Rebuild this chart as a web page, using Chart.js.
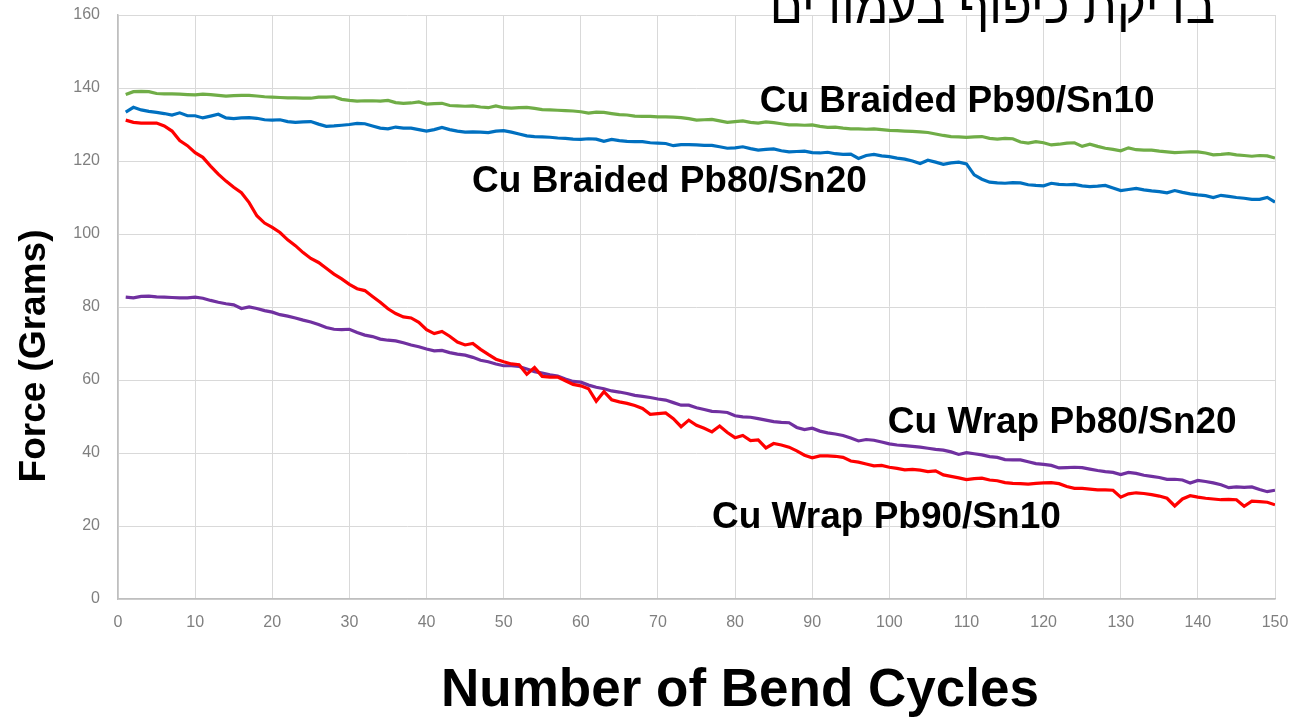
<!DOCTYPE html>
<html>
<head>
<meta charset="utf-8">
<script src="https://cdn.jsdelivr.net/npm/chart.js@4/dist/chart.umd.min.js"></script>
<style>
  html, body { margin: 0; padding: 0; background: #ffffff; }
  #c { display: block; }
</style>
</head>
<body>
<canvas id="c" width="1295" height="717"></canvas>
<script>
// ---------------- data ----------------
const cycles = [1,2,3,4,5,6,7,8,9,10,11,12,13,14,15,16,17,18,19,20,21,22,23,24,25,26,27,28,29,30,
31,32,33,34,35,36,37,38,39,40,41,42,43,44,45,46,47,48,49,50,51,52,53,54,55,56,57,58,59,60,
61,62,63,64,65,66,67,68,69,70,71,72,73,74,75,76,77,78,79,80,81,82,83,84,85,86,87,88,89,90,
91,92,93,94,95,96,97,98,99,100,101,102,103,104,105,106,107,108,109,110,111,112,113,114,115,116,117,118,119,120,
121,122,123,124,125,126,127,128,129,130,131,132,133,134,135,136,137,138,139,140,141,142,143,144,145,146,147,148,149,150];

const seriesNames = ['Cu Braided Pb90/Sn10', 'Cu Braided Pb80/Sn20', 'Cu Wrap Pb90/Sn10', 'Cu Wrap Pb80/Sn20'];

const braidedPb90Sn10 = [138.2,139.0,139.1,139.0,138.5,138.4,138.4,138.3,138.2,138.1,138.3,138.2,138.0,137.8,137.9,138.0,138.0,137.8,137.6,137.5,
137.4,137.3,137.3,137.2,137.2,137.5,137.5,137.6,136.9,136.6,136.4,136.5,136.5,136.4,136.6,136.0,135.8,135.9,136.2,135.6,
135.7,135.8,135.2,135.1,135.0,135.1,134.8,134.6,135.1,134.6,134.5,134.6,134.7,134.4,134.1,134.0,133.9,133.8,133.7,133.5,
133.1,133.4,133.3,133.0,132.7,132.6,132.3,132.2,132.2,132.1,132.1,132.0,131.9,131.6,131.2,131.3,131.4,131.0,130.6,130.8,
131.0,130.6,130.4,130.7,130.5,130.2,129.9,129.9,129.8,129.9,129.5,129.2,129.3,129.0,128.8,128.8,128.7,128.8,128.6,128.4,
128.3,128.2,128.1,128.0,127.8,127.4,127.0,126.7,126.6,126.5,126.6,126.7,126.2,126.0,126.2,126.1,125.2,124.9,125.3,125.0,
124.4,124.6,124.9,125.0,124.0,124.6,124.0,123.5,123.2,122.8,123.6,123.1,123.0,123.0,122.7,122.5,122.3,122.4,122.5,122.5,
122.2,121.7,121.8,122.0,121.7,121.5,121.3,121.5,121.4,120.8];

const braidedPb80Sn20 = [133.4,134.7,134.0,133.6,133.3,133.0,132.6,133.2,132.4,132.4,131.8,132.3,132.8,131.8,131.6,131.8,131.9,131.7,131.3,131.2,
131.3,130.8,130.6,130.7,130.8,130.1,129.5,129.6,129.8,130.0,130.3,130.2,129.6,129.0,128.8,129.3,129.0,129.0,128.6,128.2,
128.6,129.2,128.6,128.2,127.9,128.0,127.9,127.8,128.2,128.3,127.9,127.4,126.9,126.7,126.6,126.5,126.3,126.2,126.0,125.9,
126.1,126.0,125.4,125.9,125.6,125.4,125.3,125.3,125.0,124.9,124.8,124.2,124.5,124.5,124.4,124.3,124.3,123.9,123.5,123.6,
123.9,123.4,123.0,123.2,123.3,122.8,122.5,122.6,122.7,122.3,122.2,122.4,122.0,121.8,121.9,120.7,121.5,121.8,121.4,121.2,
120.8,120.5,120.0,119.3,120.2,119.7,119.1,119.5,119.7,119.2,116.2,115.0,114.2,114.0,113.9,114.1,114.0,113.5,113.3,113.2,
113.9,113.6,113.5,113.6,113.2,113.0,113.1,113.3,112.6,111.9,112.2,112.5,112.1,111.8,111.6,111.3,111.9,111.4,111.0,110.7,
110.5,110.0,110.6,110.3,110.0,109.8,109.5,109.5,110.0,108.7];

const wrapPb90Sn10 = [131.2,130.6,130.4,130.4,130.4,129.6,128.2,125.6,124.2,122.3,121.0,118.6,116.4,114.5,112.8,111.3,108.6,105.0,103.0,101.8,
100.4,98.4,96.8,94.9,93.3,92.2,90.6,89.0,87.7,86.2,85.0,84.5,82.9,81.3,79.5,78.2,77.3,77.0,75.8,73.8,
72.7,73.3,72.0,70.4,69.6,70.0,68.4,67.0,65.7,65.0,64.4,64.2,61.6,63.4,61.0,60.8,60.8,59.8,58.8,58.4,
57.6,54.2,56.8,54.6,54.0,53.6,53.0,52.2,50.6,50.8,51.0,49.4,47.2,49.0,47.6,46.8,45.8,47.4,45.6,44.2,
44.8,43.4,43.6,41.4,42.6,42.2,41.6,40.6,39.4,38.7,39.2,39.2,39.1,38.8,37.8,37.5,37.0,36.5,36.6,36.1,
35.8,35.4,35.5,35.3,34.9,35.1,34.0,33.6,33.2,32.7,33.0,33.1,32.6,32.4,31.9,31.7,31.6,31.5,31.7,31.8,
31.9,31.6,30.8,30.3,30.3,30.1,29.9,29.9,29.8,27.9,28.8,29.1,28.9,28.6,28.2,27.6,25.5,27.4,28.3,27.9,
27.6,27.4,27.2,27.3,27.2,25.4,26.8,26.7,26.5,25.8];

const wrapPb80Sn20 = [82.7,82.5,82.9,83.0,82.8,82.7,82.6,82.5,82.5,82.7,82.4,81.8,81.3,80.9,80.6,79.6,80.0,79.6,79.0,78.6,
77.9,77.5,77.0,76.4,75.9,75.2,74.4,73.9,73.8,73.9,73.0,72.3,71.9,71.2,70.9,70.7,70.2,69.6,69.1,68.5,
68.0,68.1,67.5,67.1,66.8,66.2,65.4,65.0,64.4,63.9,63.9,63.7,63.0,62.3,61.9,61.4,61.1,60.3,59.6,59.4,
58.6,58.0,57.6,57.0,56.7,56.3,55.8,55.5,55.2,54.8,54.5,53.8,53.1,53.1,52.4,51.9,51.4,51.3,51.1,50.2,
49.9,49.8,49.4,49.0,48.6,48.4,48.3,47.0,46.4,46.8,46.0,45.5,45.2,44.8,44.1,43.3,43.7,43.5,43.0,42.5,
42.2,42.0,41.8,41.6,41.3,41.0,40.8,40.3,39.6,40.1,39.8,39.5,39.0,38.8,38.2,38.1,38.1,37.6,37.1,36.9,
36.6,35.9,36.0,36.1,36.0,35.6,35.2,34.9,34.7,34.1,34.7,34.4,33.9,33.6,33.3,32.8,32.8,32.6,31.8,32.5,
32.2,31.8,31.3,30.5,30.7,30.6,30.7,30.0,29.4,29.8];

const xTickValues = [0,10,20,30,40,50,60,70,80,90,100,110,120,130,140,150];
const yTickValues = [0,20,40,60,80,100,120,140,160];

const xAxisTitle = 'Number of Bend Cycles';
const yAxisTitle = 'Force (Grams)';
const pageTitle = 'בדיקת כיפוף בעמודים';

// ---------------- styles / layout ----------------
const seriesColors = ['#70ad47', '#0070c0', '#ff0000', '#7030a0'];
const seriesValues = [braidedPb90Sn10, braidedPb80Sn20, wrapPb90Sn10, wrapPb80Sn20];
// label anchor (left, baseline) in data coordinates
const labelAnchors = [
  { x: 83.2, y: 133.4 },
  { x: 45.9, y: 111.5 },
  { x: 77.0, y: 19.5 },
  { x: 99.8, y: 45.5 }
];

const datasets = seriesNames.map((name, i) => ({
  label: name,
  data: cycles.map((c, j) => ({ x: c, y: seriesValues[i][j] })),
  borderColor: seriesColors[i],
  backgroundColor: seriesColors[i],
  borderWidth: 3.2,
  pointRadius: 0,
  tension: 0,
  fill: false
}));

const textPlugin = {
  id: 'textPlugin',
  afterDraw(chart) {
    const ctx = chart.ctx;
    const xs = chart.scales.x, ys = chart.scales.y;
    ctx.save();
    ctx.fillStyle = '#000000';
    ctx.textBaseline = 'alphabetic';
    // series labels
    ctx.font = 'bold 37px "Liberation Sans", Arial, sans-serif';
    ctx.textAlign = 'left';
    seriesNames.forEach((name, i) => {
      const a = labelAnchors[i];
      ctx.fillText(name, xs.getPixelForValue(a.x), ys.getPixelForValue(a.y));
    });
    // x axis title
    ctx.font = 'bold 53px "Liberation Sans", Arial, sans-serif';
    ctx.textAlign = 'center';
    ctx.fillText(xAxisTitle, 740, 706);
    // y axis title
    ctx.save();
    ctx.translate(45, 356);
    ctx.rotate(-Math.PI / 2);
    ctx.font = 'bold 37px "Liberation Sans", Arial, sans-serif';
    ctx.textAlign = 'center';
    ctx.fillText(yAxisTitle, 0, 0);
    ctx.restore();
    // hebrew page title (cut at top)
    ctx.font = '49px "Liberation Sans", Arial, sans-serif';
    ctx.direction = 'rtl';
    ctx.textAlign = 'right';
    ctx.fillText(pageTitle, 1215, 23);
    ctx.restore();
  }
};

new Chart(document.getElementById('c'), {
  type: 'line',
  data: { datasets },
  options: {
    responsive: false,
    devicePixelRatio: 1,
    animation: false,
    events: [],
    layout: { padding: { left: 0, top: 15, right: 20, bottom: 0 } },
    plugins: { legend: { display: false }, tooltip: { enabled: false }, title: { display: false } },
    scales: {
      x: {
        type: 'linear',
        min: 0, max: 150,
        afterBuildTicks: (s) => { s.ticks = xTickValues.map(v => ({ value: v })); },
        afterFit: (s) => { s.height = 118; s.paddingLeft = 0; s.paddingRight = 0; },
        grid: { color: '#d9d9d9', lineWidth: 1, drawTicks: false },
        border: { color: '#bfbfbf', width: 1.5 },
        ticks: { color: '#7f7f7f', font: { family: '"Liberation Sans", Arial, sans-serif', size: 16 }, padding: 14, maxRotation: 0, autoSkip: false }
      },
      y: {
        type: 'linear',
        min: 0, max: 160,
        afterBuildTicks: (s) => { s.ticks = yTickValues.map(v => ({ value: v })); },
        afterFit: (s) => { s.width = 118; s.paddingTop = 0; s.paddingBottom = 0; },
        grid: { color: '#d9d9d9', lineWidth: 1, drawTicks: false },
        border: { color: '#bfbfbf', width: 1.5 },
        ticks: { color: '#7f7f7f', font: { family: '"Liberation Sans", Arial, sans-serif', size: 16 }, padding: 18 }
      }
    }
  },
  plugins: [textPlugin]
});
</script>
</body>
</html>
